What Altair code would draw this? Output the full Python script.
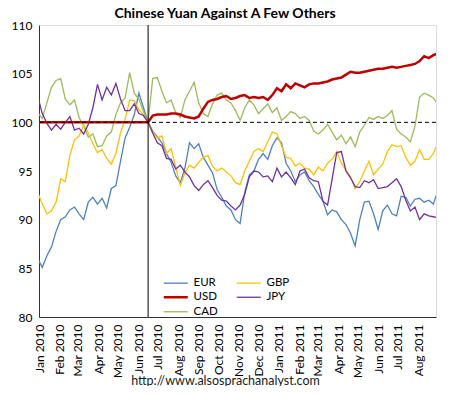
import altair as alt
import pandas as pd

# weekly observations (index = 100 at the June 2010 de-peg)
dates = pd.date_range("2009-12-30", periods=88, freq="7D")

series_names = ["EUR", "USD", "CAD", "GBP", "JPY"]
series_colors = ["#4F81BD", "#C00000", "#9BBB59", "#FFC000", "#7030A0"]
series_widths = [1.3, 2.5, 1.3, 1.3, 1.3]

eur = [86.0, 85.1, 86.3, 87.2, 88.8, 90.0, 90.3, 91.0, 91.3, 90.6,
       90.0, 91.8, 92.3, 91.6, 92.2, 91.2, 93.2, 93.5, 96.0, 98.4,
       99.5, 100.8, 103.0, 101.5, 100.0, 99.1, 98.5, 97.9, 96.8, 95.9,
       94.5, 93.8, 95.3, 97.9, 97.3, 97.8, 96.4, 95.6, 94.8, 93.1,
       92.3, 91.4, 91.0, 90.0, 89.6, 92.8, 94.6, 95.0, 96.2, 96.8,
       96.2, 97.6, 98.4, 97.9, 95.8, 95.0, 93.9, 94.6, 94.9, 94.0,
       93.4, 92.6, 91.9, 90.5, 91.0, 90.8, 90.0, 89.5, 88.6, 87.3,
       90.0, 91.8, 91.9, 90.6, 89.0, 90.9, 91.5, 90.6, 90.4, 92.4,
       92.3, 91.4, 92.1, 92.2, 91.8, 92.0, 91.6, 93.0]

usd = [100.0] * 25 + [
       100.7, 100.8, 100.8, 100.8, 100.9, 100.9, 100.8, 100.6, 100.5, 100.4,
       100.6, 101.4, 102.1, 102.3, 102.4, 102.6, 102.7, 102.4, 102.5, 102.7,
       102.8, 102.5, 102.6, 102.5, 102.6, 102.3, 102.8, 103.5, 103.2, 103.9,
       103.5, 104.0, 103.8, 103.6, 103.9, 104.0, 104.0, 104.1, 104.2, 104.4,
       104.5, 104.6, 104.9, 105.2, 105.1, 105.1, 105.2, 105.3, 105.4, 105.5,
       105.5, 105.6, 105.7, 105.6, 105.7, 105.8, 105.9, 106.0, 106.3, 106.8,
       106.6, 106.9, 107.1]

cad = [101.0, 100.4, 102.0, 103.6, 104.3, 104.5, 102.4, 101.8, 102.3, 100.5,
       99.6, 98.5, 98.8, 97.5, 97.6, 98.6, 99.0, 100.8, 102.0, 102.5,
       105.1, 103.0, 102.4, 101.1, 100.0, 104.5, 104.6, 103.2, 102.0, 102.3,
       101.0, 100.5, 102.3, 103.2, 104.1, 102.0, 100.9, 100.6, 101.9, 102.8,
       103.0, 102.3, 102.0, 101.2, 100.2, 101.5, 102.3, 101.8, 100.9, 101.4,
       101.9, 101.0, 101.5, 100.2, 100.6, 101.1, 100.9, 100.4, 100.6, 100.2,
       99.1, 98.8, 99.2, 99.8, 99.0, 98.2, 98.7, 97.8, 98.5, 97.5,
       99.0, 99.7, 100.5, 100.3, 100.6, 100.4, 100.7, 101.2, 99.3, 98.8,
       98.5, 98.0, 99.6, 102.6, 103.0, 102.8, 102.5, 101.8]

gbp = [92.8, 91.6, 90.6, 90.9, 91.8, 94.2, 93.9, 96.6, 98.2, 98.6,
       99.7, 98.9, 97.8, 96.9, 97.2, 96.3, 95.7, 96.8, 98.9, 100.3,
       102.3, 102.2, 101.3, 100.8, 100.0, 99.0, 98.4, 98.6, 96.8, 97.3,
       95.4, 93.5, 94.8, 95.6, 95.3, 95.9, 96.4, 96.6, 95.5, 95.0,
       95.3, 94.9, 94.5, 93.8, 93.6, 95.0, 96.0, 97.0, 97.3, 97.0,
       98.0, 99.0, 98.8, 97.6, 96.4, 96.3, 95.5, 95.8, 95.3, 95.2,
       94.6, 95.4, 95.0, 95.8, 96.2, 97.0, 95.8, 95.1, 94.4, 93.2,
       93.9, 95.0, 96.0, 94.6, 95.2, 95.7, 97.0, 97.7, 97.5, 97.6,
       96.4, 95.6, 96.0, 97.2, 96.2, 96.2, 96.8, 97.9]

jpy = [102.7, 100.9, 99.9, 99.2, 99.8, 99.3, 100.0, 100.6, 99.2, 99.4,
       98.8, 99.8, 101.5, 103.9, 102.3, 103.6, 102.8, 104.0, 102.4, 101.2,
       101.2, 101.9, 100.9, 100.7, 100.0, 98.9, 97.9, 97.6, 96.3, 96.2,
       95.2, 95.6, 94.9, 94.4, 93.5, 93.0, 93.6, 94.0, 93.3, 92.5,
       92.0, 91.9, 91.4, 91.0, 91.5, 92.6, 94.4, 95.0, 94.9, 94.4,
       94.5, 93.9, 95.3, 94.4, 94.9, 94.3, 93.6, 95.0, 95.2, 94.3,
       94.0, 93.9, 91.9, 91.5, 94.2, 96.9, 97.0, 95.0, 94.3, 93.4,
       93.3, 94.0, 93.8, 94.1, 93.2, 93.3, 93.4, 93.8, 94.2, 93.4,
       92.0, 90.9, 91.3, 90.0, 90.6, 90.4, 90.3, 90.2]

y_ticks = [80, 85, 90, 95, 100, 105, 110]
x_domain = ["2010-01-01", "2011-08-28"]
depeg_date = ["2010-06-16"]
baseline_value = [100]

title_text = "Chinese Yuan Against A Few Others"
source_text = "http://www.alsosprachanalyst.com"

values = {"EUR": eur, "GBP": gbp, "USD": usd, "JPY": jpy, "CAD": cad}
rows = []
for name in ["EUR", "CAD", "GBP", "JPY", "USD"]:
    for d, v in zip(dates, values[name]):
        rows.append({"date": d, "series": name, "value": v})
df = pd.DataFrame(rows)

FONT = "Lato"

leg = alt.Legend(
    title=None, orient="none", legendX=131, legendY=252, columns=2,
    symbolType="M-3,0H3", symbolSize=64, labelOffset=12,
    columnPadding=16, rowPadding=1.5, padding=0,
    labelFont=FONT, labelFontSize=11.5, labelColor="#000000",
)

x_scale = alt.Scale(domain=x_domain)
y_scale = alt.Scale(domain=[80, 110], nice=False)

lines = alt.Chart(df).mark_line(clip=True).encode(
    x=alt.X("date:T", scale=x_scale,
            axis=alt.Axis(format="%b %Y", labelAngle=270, tickCount={"interval": "month", "step": 1},
                          grid=False, ticks=False, labelPadding=7, labelFont=FONT, labelFontSize=12,
                          labelColor="#000000", domainColor="#333333",
                          title=source_text, titleX=186, titleY=67, titleAlign="center",
                          titleBaseline="alphabetic", titleFont=FONT, titleFontSize=12.5,
                          titleFontWeight="normal", titleColor="#1a1a1a", labelOverlap=False)),
    y=alt.Y("value:Q", scale=y_scale,
            axis=alt.Axis(values=y_ticks, grid=False, ticks=False, labelPadding=7, labelFont=FONT,
                          labelFontSize=12, labelColor="#000000", domainColor="#333333", title=None)),
    color=alt.Color("series:N", scale=alt.Scale(domain=series_names, range=series_colors), legend=leg),
    strokeWidth=alt.StrokeWidth("series:N",
                                scale=alt.Scale(type="ordinal", domain=series_names, range=series_widths),
                                legend=leg),
)

vline = alt.Chart(pd.DataFrame({"d": depeg_date})).mark_rule(color="#000000", strokeWidth=1).encode(
    x=alt.X("d:T", scale=x_scale)
)
hline = alt.Chart(pd.DataFrame({"v": baseline_value})).mark_rule(
    color="#000000", strokeWidth=1, strokeDash=[4, 3]
).encode(y=alt.Y("v:Q", scale=y_scale))

title_mark = alt.Chart(pd.DataFrame({"t": [title_text]})).mark_text(
    font=FONT, fontSize=14, fontWeight="bold", color="#000000",
    align="center", baseline="alphabetic",
).encode(text="t:N", x=alt.value(186), y=alt.value(-7))

chart = alt.layer(lines, hline, vline, title_mark).properties(
    width=397, height=292,
    autosize=alt.AutoSizeParams(type="none"),
    padding={"left": 31, "top": 17, "right": 6, "bottom": 69},
).configure_view(stroke="#333333", strokeWidth=1).configure(background="#ffffff")

chart.save("out.html", embed_options={"renderer": "svg", "actions": False})
